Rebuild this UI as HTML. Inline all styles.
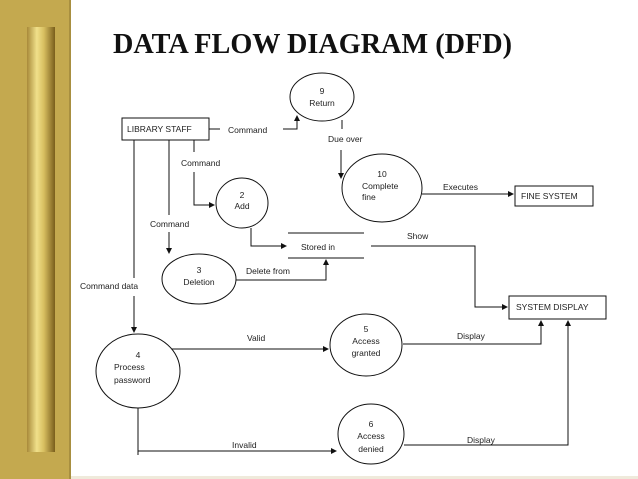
<!DOCTYPE html>
<html><head><meta charset="utf-8"><style>
html,body{margin:0;padding:0;background:#fff;}
svg{display:block;}
text{font-family:"Liberation Sans",sans-serif;font-size:8.5px;fill:#222;}
.t{font-family:"Liberation Serif",serif;font-size:29px;font-weight:bold;fill:#111;}
</style></head><body>
<svg width="638" height="479" viewBox="0 0 638 479" xmlns="http://www.w3.org/2000/svg">
<defs>
<linearGradient id="p" x1="0" x2="1" y1="0" y2="0">
<stop offset="0" stop-color="#a88a3a"/><stop offset="0.35" stop-color="#f0e08a"/><stop offset="0.6" stop-color="#d8bf60"/><stop offset="1" stop-color="#7a5e1c"/></linearGradient>
<marker id="a" markerWidth="6" markerHeight="6" refX="5" refY="3" orient="auto" markerUnits="userSpaceOnUse"><path d="M0,0 L6,3 L0,6 z" fill="#111"/></marker>
</defs>
<rect x="0" y="0" width="70" height="479" fill="#c4a94f"/>
<rect x="69" y="0" width="2" height="479" fill="#a88f40"/>
<rect x="27" y="27" width="28" height="425" fill="url(#p)"/>
<rect x="71" y="476" width="567" height="3" fill="#efeadb"/>
<text class="t" x="113" y="53" textLength="399" lengthAdjust="spacingAndGlyphs">DATA FLOW DIAGRAM (DFD)</text>
<g fill="none" stroke="#111" stroke-width="1">
<rect x="122" y="118" width="87" height="22"/>
<rect x="515" y="186" width="78" height="20"/>
<rect x="509" y="296" width="97" height="23"/>
<ellipse cx="322" cy="97" rx="32" ry="24"/>
<ellipse cx="382" cy="188" rx="40" ry="34"/>
<ellipse cx="242" cy="203" rx="26" ry="25"/>
<ellipse cx="199" cy="279" rx="37" ry="25"/>
<ellipse cx="138" cy="371" rx="42" ry="37"/>
<ellipse cx="366" cy="345" rx="36" ry="31"/>
<ellipse cx="371" cy="434" rx="33" ry="30"/>
<line x1="288" y1="233" x2="364" y2="233"/>
<line x1="288" y1="258" x2="364" y2="258"/>
<polyline points="209,129 220,129"/>
<polyline points="283,129 297,129 297,116" marker-end="url(#a)"/>
<line x1="342" y1="120" x2="342" y2="129"/>
<line x1="341" y1="150" x2="341" y2="178" marker-end="url(#a)"/>
<line x1="422" y1="194" x2="513" y2="194" marker-end="url(#a)"/>
<line x1="194" y1="140" x2="194" y2="152"/>
<polyline points="194,172 194,205 214,205" marker-end="url(#a)"/>
<line x1="169" y1="140" x2="169" y2="215"/>
<line x1="169" y1="232" x2="169" y2="253" marker-end="url(#a)"/>
<line x1="134" y1="140" x2="134" y2="278"/>
<line x1="134" y1="296" x2="134" y2="332" marker-end="url(#a)"/>
<polyline points="251,228 251,246 286,246" marker-end="url(#a)"/>
<polyline points="236,280 326,280 326,260" marker-end="url(#a)"/>
<polyline points="371,246 475,246 475,307 507,307" marker-end="url(#a)"/>
<line x1="172" y1="349" x2="328" y2="349" marker-end="url(#a)"/>
<polyline points="403,344 541,344 541,321" marker-end="url(#a)"/>
<polyline points="138,408 138,455"/>
<line x1="138" y1="451" x2="336" y2="451" marker-end="url(#a)"/>
<polyline points="404,445 568,445 568,321" marker-end="url(#a)"/>
</g>
<text x="127" y="132">LIBRARY STAFF</text>
<text x="228" y="133">Command</text>
<text x="322" y="94" text-anchor="middle">9</text>
<text x="322" y="106" text-anchor="middle">Return</text>
<text x="328" y="142">Due over</text>
<text x="382" y="177" text-anchor="middle">10</text>
<text x="362" y="189">Complete</text>
<text x="362" y="200">fine</text>
<text x="443" y="190">Executes</text>
<text x="521" y="199">FINE SYSTEM</text>
<text x="181" y="166">Command</text>
<text x="242" y="198" text-anchor="middle">2</text>
<text x="242" y="209" text-anchor="middle">Add</text>
<text x="150" y="227">Command</text>
<text x="199" y="273" text-anchor="middle">3</text>
<text x="199" y="285" text-anchor="middle">Deletion</text>
<text x="246" y="274">Delete from</text>
<text x="301" y="250">Stored in</text>
<text x="407" y="239">Show</text>
<text x="80" y="289">Command data</text>
<text x="516" y="310">SYSTEM DISPLAY</text>
<text x="138" y="358" text-anchor="middle">4</text>
<text x="114" y="370">Process</text>
<text x="114" y="383">password</text>
<text x="247" y="341">Valid</text>
<text x="366" y="332" text-anchor="middle">5</text>
<text x="366" y="344" text-anchor="middle">Access</text>
<text x="366" y="356" text-anchor="middle">granted</text>
<text x="457" y="339">Display</text>
<text x="371" y="427" text-anchor="middle">6</text>
<text x="371" y="439" text-anchor="middle">Access</text>
<text x="371" y="452" text-anchor="middle">denied</text>
<text x="232" y="448">Invalid</text>
<text x="467" y="443">Display</text>
</svg>
</body></html>
